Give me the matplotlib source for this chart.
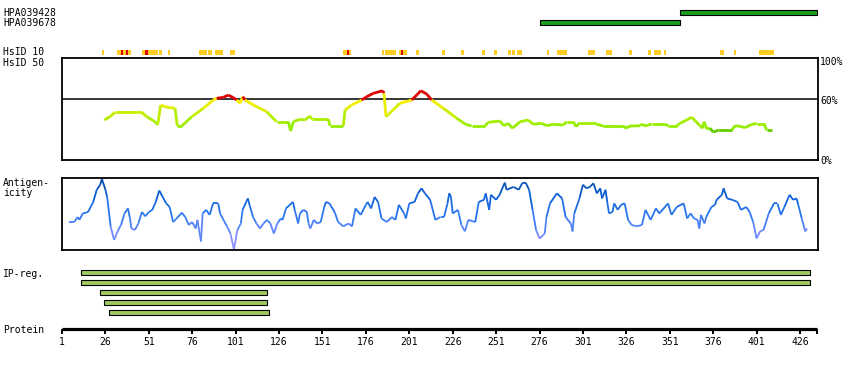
import numpy as np
import matplotlib
matplotlib.use("Agg")
import matplotlib.pyplot as plt
from matplotlib.collections import LineCollection
from matplotlib.colors import LinearSegmentedColormap

plt.rcParams['font.family'] = ['DejaVu Sans Mono']
plt.rcParams['font.size'] = 7

protein_length = 435
tick_positions = [1, 26, 51, 76, 101, 126, 151, 176, 201, 226, 251, 276, 301, 326, 351, 376, 401, 426]

# antibodies (residue ranges)
antibody_names = ["HPA039428", "HPA039678"]
antibody_start = [357, 276]
antibody_end = [435.5, 357]

# HsID 10 marks (residue edges)
hsid10_start = [23.9, 32.9, 47.2, 56.7, 61.9, 79.9, 85.1, 89.1, 97.8, 162.8, 185.1, 187.0, 195.1,
                204.9, 219.8, 230.8, 242.9, 249.8, 257.8, 260.1, 263.0, 280.3, 286.1, 303.9, 314.3,
                327.5, 338.4, 341.9, 347.4, 380.2, 387.7, 402.1]
hsid10_end = [25.0, 40.6, 56.3, 58.4, 63.0, 84.3, 87.2, 93.5, 100.6, 167.3, 186.3, 193.3, 199.5,
              206.4, 221.4, 232.3, 244.4, 251.5, 259.6, 261.9, 265.9, 281.4, 291.8, 307.9, 317.7,
              329.1, 340.1, 346.2, 349.1, 382.5, 389.4, 410.8]
hsid10_red_start = [35.0, 37.9, 49.0, 165.1, 196.2]
hsid10_red_end = [36.3, 39.2, 50.4, 166.3, 197.4]

# HsID 50 identity (%)
hsid50_pos = [25.4, 28.6, 31.5, 46.9, 49.8, 54.6, 56.1, 57.8, 61.3, 66.1, 67.4, 69.9, 75.7, 82.4,
              88.1, 90.1, 93.9, 96.8, 99.7, 101.6, 103.5, 105.1, 106.4, 111.2, 118.9, 124.6, 131.3,
              132.7, 134.2, 138.1, 140.9, 143.8, 145.1, 154.4, 155.3, 163.0, 164.0, 167.8, 173.6,
              176.5, 180.3, 185.7, 186.4, 187.6, 195.6, 202.4, 205.3, 207.6, 211.0, 213.9, 220.6,
              228.3, 233.1, 236.9, 244.6, 246.5, 253.2, 255.5, 258.0, 260.3, 264.8, 269.5, 272.4,
              277.2, 280.1, 283.9, 289.7, 291.6, 295.5, 297.0, 299.3, 307.0, 308.9, 312.7, 324.2,
              325.6, 328.1, 333.9, 334.8, 336.7, 340.6, 348.2, 350.1, 355.0, 356.9, 360.7, 363.6,
              368.4, 369.9, 370.7, 372.3, 374.2, 376.1, 379.0, 386.7, 388.6, 391.5, 394.3, 398.2,
              401.1, 405.3, 406.8, 410.0]
hsid50_val = [39.5, 42.7, 47.0, 47.0, 42.7, 37.8, 34.6, 54.2, 52.0, 51.0, 33.6, 33.6, 42.7, 51.0,
              59.1, 60.8, 61.7, 64.0, 61.4, 59.1, 55.9, 62.4, 59.1, 54.2, 47.6, 37.8, 37.8,
              28.7, 37.8, 40.2, 39.5, 43.4, 40.2, 40.2, 33.9, 33.9, 49.3, 54.2, 59.1,
              62.4, 65.7, 68.2, 65.7, 42.7, 55.9, 59.1, 64.0, 68.2, 65.0, 59.1, 51.0,
              41.2, 35.6, 33.6, 33.6, 37.3, 38.5, 33.9, 36.3, 31.4, 37.8, 39.5, 35.3,
              36.3, 33.9, 35.3, 34.6, 37.8, 37.8, 33.0, 36.9, 36.9, 35.3, 33.6, 33.6,
              31.4, 33.6, 33.9, 35.6, 33.6, 35.6, 35.6, 33.6, 33.6, 36.3, 39.5, 42.2,
              33.9, 31.4, 37.8, 30.7, 31.4, 27.5, 29.7, 29.7, 33.9, 33.3, 32.0, 35.3,
              36.0, 36.0, 29.4, 29.4]

# Antigenicity (relative score, 0 = panel bottom, 1 = panel top)
antigen_pos = [5, 8, 10, 11, 13, 16, 19, 21, 23, 24, 26, 27, 29, 31, 33, 35, 37, 39, 40, 41, 43, 45,
               47, 49, 51, 53, 55, 57, 59, 61, 63, 65, 67, 70, 72, 74, 76, 78, 79, 81, 82, 84, 86,
               88, 91, 92, 94, 96, 98, 100, 102, 104, 105, 108, 109, 111, 113, 115, 117, 119, 121,
               123, 125, 127, 128, 130, 134, 135, 137, 138, 140, 142, 143, 144, 146, 148, 150, 152,
               153, 155, 158, 160, 163, 166, 168, 170, 173, 176, 177, 179, 181, 183, 185, 188, 191,
               193, 195, 198, 199, 201, 204, 206, 208, 210, 213, 216, 219, 221, 223, 224, 225, 226,
               229, 231, 233, 235, 239, 241, 244, 245, 247, 248, 251, 253, 256, 257, 261, 264, 266,
               268, 270, 272, 274, 276, 279, 280, 282, 286, 289, 291, 294, 295, 296, 299, 301, 303,
               305, 307, 309, 311, 312, 314, 315, 316, 318, 319, 321, 323, 325, 327, 329, 332, 335,
               337, 340, 343, 345, 350, 352, 355, 359, 361, 363, 365, 367, 368, 369, 371, 372, 375,
               377, 378, 381, 382, 384, 387, 390, 392, 395, 397, 399, 401, 403, 405, 408, 411, 413,
               415, 417, 420, 422, 424, 425, 427, 429, 430]
antigen_val = [0.39, 0.39, 0.46, 0.42, 0.51, 0.53, 0.67, 0.84, 0.91, 0.99, 0.84, 0.74, 0.33, 0.14,
               0.26, 0.35, 0.51, 0.58, 0.46, 0.30, 0.28, 0.37, 0.53, 0.47, 0.53, 0.56, 0.67, 0.83,
               0.74, 0.65, 0.60, 0.39, 0.44, 0.52, 0.46, 0.35, 0.39, 0.30, 0.42, 0.12, 0.51, 0.56,
               0.49, 0.65, 0.65, 0.51, 0.42, 0.33, 0.23, 0.01, 0.28, 0.37, 0.56, 0.72, 0.63, 0.46,
               0.37, 0.30, 0.37, 0.42, 0.37, 0.23, 0.37, 0.44, 0.42, 0.58, 0.67, 0.56, 0.37, 0.51,
               0.56, 0.53, 0.37, 0.30, 0.42, 0.37, 0.39, 0.60, 0.67, 0.65, 0.53, 0.39, 0.33, 0.37,
               0.33, 0.58, 0.49, 0.63, 0.67, 0.58, 0.74, 0.67, 0.44, 0.39, 0.46, 0.42, 0.63, 0.51,
               0.44, 0.65, 0.67, 0.79, 0.86, 0.79, 0.70, 0.42, 0.46, 0.46, 0.65, 0.79, 0.74, 0.51,
               0.56, 0.35, 0.26, 0.42, 0.39, 0.67, 0.70, 0.79, 0.56, 0.77, 0.70, 0.77, 0.94, 0.84,
               0.88, 0.84, 0.93, 0.94, 0.84, 0.56, 0.28, 0.16, 0.23, 0.46, 0.65, 0.79, 0.72, 0.46,
               0.37, 0.26, 0.51, 0.72, 0.91, 0.86, 0.88, 0.93, 0.79, 0.86, 0.72, 0.84, 0.67, 0.51,
               0.53, 0.65, 0.56, 0.63, 0.65, 0.42, 0.35, 0.33, 0.35, 0.56, 0.42, 0.58, 0.51, 0.65,
               0.49, 0.60, 0.65, 0.44, 0.51, 0.44, 0.42, 0.30, 0.49, 0.37, 0.46, 0.60, 0.63, 0.70,
               0.77, 0.86, 0.72, 0.70, 0.67, 0.56, 0.60, 0.53, 0.39, 0.16, 0.26, 0.28, 0.51, 0.65,
               0.65, 0.49, 0.60, 0.77, 0.70, 0.72, 0.63, 0.44, 0.26, 0.30]

# InterPro regions
ipreg_start = [12, 12, 23, 25, 28]
ipreg_end = [432, 432, 119, 119, 120]

W, H = 850, 370
X0, SCALE = 62, 1.7365


def res(px):
    return (px - X0) / SCALE + 1


def panel(fig, top, bottom, left=61.5, right=817.5):
    ax = fig.add_axes([left / W, 1 - bottom / H, (right - left) / W, (bottom - top) / H])
    ax.set_xlim(res(left), res(right))
    ax.set_xticks([])
    ax.set_yticks([])
    for s in ax.spines.values():
        s.set_linewidth(1.3)
    return ax


fig = plt.figure(figsize=(W / 100, H / 100), dpi=100)

bg = fig.add_axes([0, 0, 1, 1])
bg.set_xlim(res(0), res(W))
bg.set_ylim(H, 0)
bg.axis('off')

# antibodies
for i, name in enumerate(antibody_names):
    y = 12.5 + 10 * i
    bg.barh(y, antibody_end[i] - antibody_start[i], left=antibody_start[i], height=4.4,
            color='#1e9e1e', edgecolor='black', linewidth=0.8)
    bg.text(res(3), y, name, va='center', ha='left')

# HsID 10
bg.barh([52.3] * len(hsid10_start), np.array(hsid10_end) - np.array(hsid10_start),
        left=hsid10_start, height=4.4, color='#ffcc22', linewidth=0)
bg.barh([52.3] * len(hsid10_red_start), np.array(hsid10_red_end) - np.array(hsid10_red_start),
        left=hsid10_red_start, height=4.4, color='#dd0000', linewidth=0)
bg.text(res(3), 52.3, "HsID 10", va='center', ha='left')
bg.text(res(3), 62.5, "HsID 50", va='center', ha='left')

# HsID 50 panel
ax1 = panel(fig, 58.3, 160.3)
ax1.set_ylim(0, 100)
ax1.axhline(60, color='black', linewidth=1.1, zorder=1)

hsid_cmap = LinearSegmentedColormap.from_list('hs', ['#88ee00', '#aaee00', '#ddee00', '#ffee00'])


def hsid_color(v):
    if v >= 60:
        return '#dd0000'
    if v < 30:
        return '#66cc00'
    return hsid_cmap((v - 30) / 30)


pts = np.column_stack([hsid50_pos, hsid50_val])
segs = np.stack([pts[:-1], pts[1:]], axis=1)
cols = [hsid_color((a + b) / 2) for a, b in zip(hsid50_val[:-1], hsid50_val[1:])]
ax1.add_collection(LineCollection(segs, colors=cols, linewidths=2.0, zorder=2, capstyle='butt'))
bg.text(res(820), 62, "100%", va='center', ha='left')
bg.text(res(820), 100.5, "60%", va='center', ha='left')
bg.text(res(820), 160.5, "0%", va='center', ha='left')

# Antigenicity panel
ax2 = panel(fig, 178.3, 250)
ax2.set_ylim(0, 1)
ag_cmap = LinearSegmentedColormap.from_list('ag', ['#a898ff', '#6a88ff', '#2a78f0', '#0a5ed8', '#0a4aa0'])
pts = np.column_stack([antigen_pos, antigen_val])
segs = np.stack([pts[:-1], pts[1:]], axis=1)
mids = (np.array(antigen_val[:-1]) + np.array(antigen_val[1:])) / 2
ax2.add_collection(LineCollection(segs, colors=ag_cmap(mids), linewidths=1.3))
bg.text(res(3), 183, "Antigen-", va='center', ha='left')
bg.text(res(3), 193.5, "icity", va='center', ha='left')

# IP regions
for i in range(len(ipreg_start)):
    bg.barh(272.5 + 10 * i, ipreg_end[i] - ipreg_start[i], left=ipreg_start[i], height=4.4,
            color='#a0c860', edgecolor='black', linewidth=0.8)
bg.text(res(3), 273.8, "IP-reg.", va='center', ha='left')

# Protein axis
bg.hlines(329, 1, protein_length + 0.6, color='black', linewidth=2.3)
bg.vlines(tick_positions + [protein_length + 0.6], 329, 334, color='black', linewidth=1.4)
for t in tick_positions:
    bg.text(t, 342, str(t), va='center', ha='center')
bg.text(res(3), 330, "Protein", va='center', ha='left')

fig.savefig("out.png", dpi=100)
